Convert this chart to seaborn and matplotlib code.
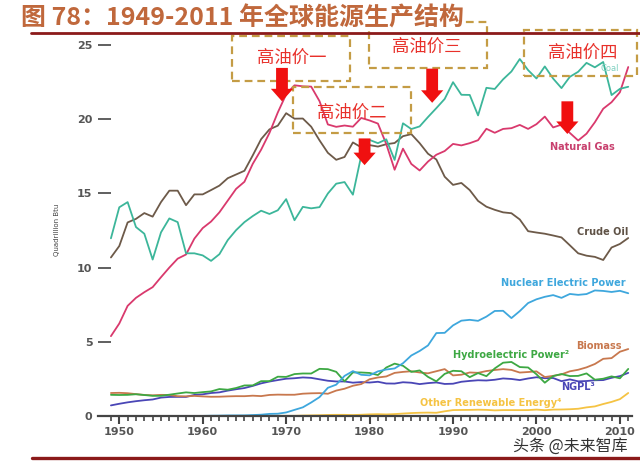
import numpy as np
import pandas as pd
import matplotlib
matplotlib.use("Agg")
import matplotlib.pyplot as plt
import seaborn as sns
from matplotlib.patches import Rectangle
from matplotlib.ticker import FixedLocator

# ---------------- data (quadrillion Btu) ----------------
years = list(range(1949, 2012))
coal = [11.97, 14.06, 14.41, 12.73, 12.28, 10.54, 12.37, 13.31, 13.06, 10.96,
        10.96, 10.82, 10.45, 10.90, 11.85, 12.52, 13.06, 13.47, 13.83, 13.61,
        13.86, 14.61, 13.19, 14.09, 13.99, 14.07, 14.99, 15.65, 15.76, 14.91,
        17.54, 18.60, 18.38, 18.64, 17.25, 19.72, 19.33, 19.51, 20.14, 20.74,
        21.36, 22.49, 21.64, 21.63, 20.25, 22.11, 22.03, 22.68, 23.21, 24.05,
        23.30, 22.74, 23.55, 22.73, 22.09, 22.85, 23.19, 23.79, 23.49, 23.85,
        21.62, 22.04, 22.18]
natural_gas = [5.38, 6.23, 7.42, 7.96, 8.34, 8.68, 9.35, 10.00, 10.60, 10.88,
               11.95, 12.66, 13.10, 13.72, 14.51, 15.30, 15.78, 16.99, 17.94, 19.07,
               20.45, 21.67, 22.28, 22.21, 22.19, 21.21, 19.64, 19.48, 19.57, 19.49,
               20.08, 19.91, 19.70, 18.32, 16.59, 18.01, 16.98, 16.54, 17.14, 17.60,
               17.85, 18.33, 18.23, 18.38, 18.58, 19.35, 19.08, 19.34, 19.39, 19.61,
               19.34, 19.66, 20.17, 19.44, 19.63, 19.07, 18.56, 19.02, 19.79, 20.70,
               21.14, 21.81, 23.51]
crude_oil = [10.68, 11.45, 13.04, 13.28, 13.67, 13.43, 14.41, 15.18, 15.18, 14.20,
             14.93, 14.93, 15.22, 15.52, 16.02, 16.27, 16.52, 17.56, 18.65, 19.31,
             19.56, 20.40, 20.03, 20.04, 19.49, 18.57, 17.73, 17.26, 17.45, 18.43,
             18.10, 18.25, 18.15, 18.31, 18.39, 18.85, 18.99, 18.38, 17.67, 17.28,
             16.12, 15.57, 15.70, 15.22, 14.49, 14.10, 13.89, 13.72, 13.66, 13.24,
             12.45, 12.36, 12.28, 12.16, 12.03, 11.50, 10.96, 10.80, 10.72, 10.51,
             11.35, 11.59, 11.99]
nuclear_years = list(range(1957, 2012))
nuclear = [0.000, 0.002, 0.002, 0.006, 0.020, 0.026, 0.038, 0.040, 0.043, 0.064,
           0.088, 0.142, 0.154, 0.239, 0.413, 0.584, 0.910, 1.272, 1.900, 2.111,
           2.702, 3.024, 2.776, 2.739, 3.008, 3.131, 3.203, 3.553, 4.076, 4.380,
           4.754, 5.587, 5.602, 6.104, 6.422, 6.479, 6.410, 6.694, 7.075, 7.087,
           6.597, 7.068, 7.610, 7.862, 8.029, 8.145, 7.959, 8.222, 8.161, 8.215,
           8.459, 8.426, 8.355, 8.434, 8.269]
hydro = [1.425, 1.415, 1.424, 1.466, 1.413, 1.360, 1.360, 1.435, 1.516, 1.592,
         1.548, 1.608, 1.656, 1.816, 1.771, 1.886, 2.059, 2.062, 2.347, 2.349,
         2.648, 2.634, 2.824, 2.864, 2.861, 3.177, 3.155, 2.976, 2.333, 2.937,
         2.931, 2.900, 2.758, 3.266, 3.527, 3.386, 2.970, 3.071, 2.635, 2.334,
         2.837, 3.046, 3.016, 2.617, 2.892, 2.683, 3.205, 3.590, 3.640, 3.297,
         3.268, 2.811, 2.242, 2.689, 2.825, 2.690, 2.703, 2.869, 2.446, 2.511,
         2.669, 2.539, 3.171]
biomass = [1.549, 1.562, 1.535, 1.474, 1.419, 1.394, 1.424, 1.416, 1.334, 1.323,
           1.353, 1.320, 1.295, 1.300, 1.323, 1.337, 1.335, 1.369, 1.340, 1.419,
           1.440, 1.431, 1.432, 1.503, 1.529, 1.540, 1.499, 1.713, 1.838, 2.038,
           2.152, 2.476, 2.596, 2.664, 2.904, 2.971, 3.016, 2.932, 2.875, 3.016,
           3.160, 2.735, 2.782, 2.932, 2.908, 3.028, 3.101, 3.157, 3.105, 2.927,
           2.963, 3.006, 2.624, 2.705, 2.805, 3.011, 3.114, 3.277, 3.503, 3.852,
           3.899, 4.330, 4.511]
ngpl = [0.714, 0.823, 0.920, 0.998, 1.062, 1.113, 1.240, 1.283, 1.289, 1.287,
        1.420, 1.461, 1.549, 1.593, 1.709, 1.803, 1.883, 2.028, 2.198, 2.323,
        2.420, 2.512, 2.544, 2.598, 2.569, 2.471, 2.374, 2.327, 2.327, 2.245,
        2.286, 2.254, 2.307, 2.191, 2.184, 2.274, 2.241, 2.149, 2.215, 2.260,
        2.158, 2.175, 2.306, 2.363, 2.408, 2.391, 2.442, 2.530, 2.495, 2.420,
        2.528, 2.611, 2.547, 2.559, 2.346, 2.466, 2.334, 2.356, 2.409, 2.419,
        2.574, 2.686, 2.904]
other_years = list(range(1960, 2012))
other_renewable = [0.001, 0.002, 0.002, 0.004, 0.005, 0.004, 0.004, 0.007, 0.009, 0.013,
                   0.011, 0.012, 0.031, 0.043, 0.053, 0.070, 0.078, 0.077, 0.064, 0.084,
                   0.110, 0.123, 0.105, 0.129, 0.165, 0.198, 0.219, 0.229, 0.217, 0.317,
                   0.398, 0.406, 0.411, 0.424, 0.413, 0.378, 0.396, 0.397, 0.395, 0.398,
                   0.433, 0.391, 0.432, 0.438, 0.455, 0.488, 0.581, 0.646, 0.807, 0.950,
                   1.134, 1.550]

series = [
    ("Other Renewable Energy", other_years, other_renewable, "#f5c343"),
    ("NGPL", years, ngpl, "#4a46b6"),
    ("Biomass", years, biomass, "#c8784e"),
    ("Hydroelectric Power", years, hydro, "#3da843"),
    ("Nuclear Electric Power", nuclear_years, nuclear, "#3ea7dd"),
    ("Crude Oil", years, crude_oil, "#6d5a49"),
    ("Natural Gas", years, natural_gas, "#d9396d"),
    ("Coal", years, coal, "#3cb69a"),
]
df = pd.concat([pd.DataFrame({"year": y, "value": v, "source": n})
                for n, y, v, c in series], ignore_index=True)
palette = {n: c for n, y, v, c in series}

# ---------------- figure ----------------
sns.set_theme(style="white")
plt.rcParams["font.family"] = ["DejaVu Sans", "Noto Sans CJK SC"]

fig = plt.figure(figsize=(6.4, 4.63), dpi=100)
ax = fig.add_axes([98/640, 47/463, (632-98)/640, (416-36)/463])

sns.lineplot(data=df, x="year", y="value", hue="source", palette=palette,
             hue_order=[s[0] for s in series], linewidth=1.3, legend=False,
             ax=ax, estimator=None)

ax.set_xlim(1947.45, 2011.45)
ax.set_ylim(0, 25.6)
ax.set_xlabel("")
ax.set_ylabel("")
for s in ["top", "right", "left"]:
    ax.spines[s].set_visible(False)
ax.spines["bottom"].set_color("#444444")
ax.spines["bottom"].set_linewidth(1.6)
ax.set_xticks([1950, 1960, 1970, 1980, 1990, 2000, 2010])
ax.xaxis.set_minor_locator(FixedLocator(years))
ax.tick_params(axis="x", which="major", direction="out", length=6, width=1.5,
               color="#444444", labelsize=8, labelcolor="#555555", pad=2, bottom=True)
ax.tick_params(axis="x", which="minor", direction="out", length=3.5, width=1.2,
               color="#444444", bottom=True)
ax.set_yticks([0, 5, 10, 15, 20, 25])
ax.tick_params(axis="y", which="major", direction="in", length=9.5, width=1.2,
               color="#444444", labelsize=8, labelcolor="#555555", pad=4, left=True)
for lab in ax.get_xticklabels() + ax.get_yticklabels():
    lab.set_fontweight("bold")

fig.text(57/640, 1-230/463, "Quadrillion Btu", rotation=90, ha="center", va="center",
         fontsize=5, color="#444444", family=["Liberation Sans Narrow", "DejaVu Sans"])

# series labels
lab_kw = dict(fontsize=7, fontweight="bold", ha="center", va="center")
ax.text(2005.5, 18.13, "Natural Gas", color="#c8406e", **lab_kw)
ax.text(2007.9, 12.4, "Crude Oil", color="#5f5246", **lab_kw)
ax.text(2003.2, 8.96, "Nuclear Electric Power", color="#3ea7dd", **lab_kw)
ax.text(2007.5, 4.72, "Biomass", color="#c8784e", **lab_kw)
ax.text(1996.9, 4.11, "Hydroelectric Power²", color="#3da843", **lab_kw)
ax.text(2005.0, 1.95, "NGPL³", color="#4a46b6", **lab_kw)
ax.text(1994.5, 0.88, "Other Renewable Energy⁴", color="#f5c343", **lab_kw)
ax.text(2008.8, 23.4, "Coal", color="#7fd0c0", fontsize=6, ha="center", va="center")

# dashed boxes + Chinese annotations
box_color = "#c49c45"
boxes = [
    (1963.5, 22.57, 1977.7, 25.6, "高油价一", 1970.7, 24.1),
    (1970.8, 19.07, 1985.0, 22.17, "高油价二", 1977.9, 20.45),
    (1979.9, 23.45, 1994.1, 26.55, "高油价三", 1986.9, 24.85),
    (1998.5, 22.9, 2012.1, 26.0, "高油价四", 2005.5, 24.45),
]
for x0, y0, x1, y1, txt, tx, ty in boxes:
    ax.add_patch(Rectangle((x0, y0), x1-x0, y1-y0, fill=False, edgecolor=box_color,
                           linewidth=1.6, linestyle=(0, (3.5, 2.2)), clip_on=False,
                           zorder=5))
    ax.text(tx, ty, txt, color="#e8302a", fontsize=12.5, ha="center", va="center",
            family=["Noto Sans CJK SC"], zorder=6, clip_on=False)

arrows = [(1969.5, 23.45, 21.2), (1979.4, 18.7, 16.9), (1987.5, 23.4, 21.1),
          (2003.7, 21.2, 19.0)]
for x, ys, ye in arrows:
    ax.annotate("", xy=(x, ye), xytext=(x, ys), annotation_clip=False,
                arrowprops=dict(width=8.5, headwidth=16, headlength=9, shrink=0,
                                color="#f01010", linewidth=0), zorder=7)

# title and rules
fig.text(21/640, 1-18/463, "图 78：1949-2011 年全球能源生产结构", fontsize=18,
         fontweight="bold", color="#c0683c", ha="left", va="center",
         family=["Noto Sans CJK SC"], zorder=10,
         bbox=dict(facecolor="white", edgecolor="none", pad=0.5))
fig.add_artist(plt.Line2D([31/640, 1], [1-33/463, 1-33/463], color="#8b1a1a",
                          linewidth=2, transform=fig.transFigure, zorder=11))
fig.add_artist(plt.Line2D([32/640, 1], [1-458/463, 1-458/463], color="#8b1a1a",
                          linewidth=2.4, transform=fig.transFigure))

fig.text(570/640, 1-446/463, "头条 @未来智库", fontsize=11.5, color="#333333",
         ha="center", va="center", family=["Noto Sans CJK SC", "DejaVu Sans"])

fig.savefig("out.png", dpi=100)
